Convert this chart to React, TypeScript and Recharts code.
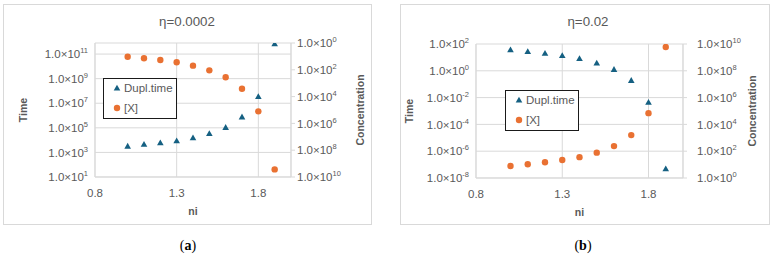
import React from 'react';
import { ScatterChart, Scatter, XAxis, YAxis, CartesianGrid, Legend } from 'recharts';

// ---------- data ----------
const niValues = [1.0, 1.1, 1.2, 1.3, 1.4, 1.5, 1.6, 1.7, 1.8, 1.9];
const dupTimeA = [3.3e3, 4.6e3, 6.2e3, 8.9e3, 1.6e4, 3.5e4, 1.1e5, 7.9e5, 3.6e7, 6.9e11];
const concA = [10.5, 13.8, 18.6, 27.5, 49, 110, 363, 2570, 1.26e5, 2.7e9];
const dupTimeB = [38, 28, 21, 14, 8.3, 3.9, 1.29, 0.195, 4.5e-3, 5.0e-8];
const concB = [7.8, 10.5, 14.8, 21.9, 36, 78, 240, 1585, 6.9e4, 6.0e9];

const xTicks = [0.8, 1.3, 1.8];
const timeTicksA = [1e1, 1e3, 1e5, 1e7, 1e9, 1e11];
const concTicksA = [1e0, 1e2, 1e4, 1e6, 1e8, 1e10];
const timeTicksB = [1e-8, 1e-6, 1e-4, 1e-2, 1e0, 1e2];
const concTicksB = [1e0, 1e2, 1e4, 1e6, 1e8, 1e10];

const seriesNames = ['Dupl.time', '[X]'];
const titles = ['η=0.0002', 'η=0.02'];
const captions = ['a', 'b'];

// ---------- styles ----------
const FONT = '"Liberation Sans", Arial, sans-serif';
const TEXT = '#595959';
const GRID = '#d9d9d9';
const TEAL = '#156082';
const ORANGE = '#E97132';

const buildRows = (time: number[], conc: number[]) =>
  niValues.map((ni, i) => ({ ni, time: time[i], conc: conc[i] }));

const Triangle = (props: any) => {
  const { cx, cy } = props;
  if (cx == null || cy == null) return null;
  return (
    <polygon
      points={`${cx},${cy - 3.2} ${cx - 3.3},${cy + 2.6} ${cx + 3.3},${cy + 2.6}`}
      fill={TEAL}
    />
  );
};

const Dot = (props: any) => {
  const { cx, cy } = props;
  if (cx == null || cy == null) return null;
  return <circle cx={cx} cy={cy} r={3.2} fill={ORANGE} />;
};

const LogTick = (props: any) => {
  const { x, y, payload, anchor, shift } = props;
  const e = Math.round(Math.log10(payload.value));
  return (
    <text
      x={x + (shift || 0)}
      y={y}
      dy="0.36em"
      textAnchor={anchor}
      fill={TEXT}
      fontSize={11.5}
      fontFamily={FONT}
    >
      1.0×10
      <tspan dy={-5} fontSize={7.5}>
        {e}
      </tspan>
    </text>
  );
};

const XTick = (props: any) => {
  const { x, y, payload } = props;
  return (
    <text x={x} y={y + 12} textAnchor="middle" fill={TEXT} fontSize={11.5} fontFamily={FONT}>
      {payload.value.toFixed(1)}
    </text>
  );
};

const LegendBox = () => (
  <div
    style={{
      border: '1px solid #1a1a1a',
      background: '#fff',
      width: 72,
      height: 39,
      boxSizing: 'content-box',
      fontFamily: FONT,
      fontSize: 11.5,
      color: TEXT,
      position: 'relative',
    }}
  >
    <div style={{ position: 'absolute', left: 9, top: 3, display: 'flex', alignItems: 'center', whiteSpace: 'nowrap' }}>
      <svg width={8} height={8} style={{ marginRight: 3 }}>
        <polygon points="4,0.8 0.7,6.6 7.3,6.6" fill={TEAL} />
      </svg>
      {seriesNames[0]}
    </div>
    <div style={{ position: 'absolute', left: 9, top: 23, display: 'flex', alignItems: 'center', whiteSpace: 'nowrap' }}>
      <svg width={8} height={8} style={{ marginRight: 3 }}>
        <circle cx={4} cy={4} r={3.2} fill={ORANGE} />
      </svg>
      {seriesNames[1]}
    </div>
  </div>
);

interface PanelCfg {
  left: number;
  rows: { ni: number; time: number; conc: number }[];
  timeDomain: [number, number];
  timeTicks: number[];
  concDomain: [number, number];
  concTicks: number[];
  concReversed: boolean;
  margin: { top: number; right: number; bottom: number; left: number };
  leftWidth: number;
  rightTickMargin: number;
  timeLabelX: number;
  concLabelX: number;
  niLabelDy: number;
  legendPos: { left: number; top: number };
  title: string;
  caption: string;
  border: { left: number; top: number; width: number; height: number };
  titleX: number;
  captionX: number;
}

const CH_W = 386;
const CH_H = 232;

const Panel = ({ cfg }: { cfg: PanelCfg }) => {
  return (
    <>
      <div
        style={{
          position: 'absolute',
          left: cfg.border.left,
          top: cfg.border.top,
          width: cfg.border.width,
          height: cfg.border.height,
          border: `1px solid ${GRID}`,
          boxSizing: 'border-box',
        }}
      />
      <div
        style={{
          position: 'absolute',
          left: cfg.titleX - 60,
          width: 120,
          top: 14,
          textAlign: 'center',
          fontFamily: FONT,
          fontSize: 13.3,
          color: TEXT,
        }}
      >
        {cfg.title}
      </div>
      <div style={{ position: 'absolute', left: cfg.left, top: 0, width: CH_W, height: CH_H }}>
        <ScatterChart width={CH_W} height={CH_H} margin={cfg.margin}>
          <CartesianGrid stroke={GRID} yAxisId="time" strokeWidth={1} />
          <XAxis
            type="number"
            dataKey="ni"
            domain={[0.8, 2.0]}
            ticks={xTicks}
            allowDataOverflow
            height={30}
            tickSize={0}
            tickMargin={8}
            tickLine={false}
            axisLine={{ stroke: GRID }}
            tick={<XTick />}
            label={(p: any) => {
              const vb = p.viewBox || {};
              return (
                <text
                  x={vb.x + vb.width / 2}
                  y={vb.y + cfg.niLabelDy}
                  textAnchor="middle"
                  fill={TEXT}
                  fontSize={10.5}
                  fontWeight="bold"
                  fontFamily={FONT}
                >
                  ni
                </text>
              );
            }}
          />
          <YAxis
            yAxisId="time"
            orientation="left"
            type="number"
            dataKey="time"
            scale="log"
            domain={cfg.timeDomain}
            ticks={cfg.timeTicks}
            allowDataOverflow
            width={cfg.leftWidth}
            tickSize={0}
            tickMargin={7}
            tickLine={false}
            axisLine={{ stroke: GRID }}
            tick={<LogTick anchor="end" />}
            label={(p: any) => {
              const vb = p.viewBox || {};
              const cy = vb.y + vb.height / 2;
              return (
                <text
                  x={cfg.timeLabelX}
                  y={cy}
                  transform={`rotate(-90 ${cfg.timeLabelX} ${cy})`}
                  textAnchor="middle"
                  dominantBaseline="central"
                  fill={TEXT}
                  fontSize={10.5}
                  fontWeight="bold"
                  fontFamily={FONT}
                >
                  Time
                </text>
              );
            }}
          />
          <YAxis
            yAxisId="conc"
            orientation="right"
            type="number"
            dataKey="conc"
            scale="log"
            domain={cfg.concDomain}
            ticks={cfg.concTicks}
            reversed={cfg.concReversed}
            allowDataOverflow
            width={80}
            tickSize={4}
            tickMargin={cfg.rightTickMargin}
            tickLine={{ stroke: GRID }}
            axisLine={{ stroke: GRID }}
            tick={<LogTick anchor="start" />}
            label={(p: any) => {
              const vb = p.viewBox || {};
              const cy = vb.y + vb.height / 2;
              const lx = vb.x + cfg.concLabelX;
              return (
                <text
                  x={lx}
                  y={cy}
                  transform={`rotate(-90 ${lx} ${cy})`}
                  textAnchor="middle"
                  dominantBaseline="central"
                  fill={TEXT}
                  fontSize={10.5}
                  fontWeight="bold"
                  fontFamily={FONT}
                >
                  Concentration
                </text>
              );
            }}
          />
          <Legend
            layout="horizontal"
            verticalAlign="middle"
            align="center"
            content={() => <LegendBox />}
            wrapperStyle={{ position: 'absolute', left: cfg.legendPos.left, top: cfg.legendPos.top, width: 74, height: 41 }}
          />
          <Scatter
            name={seriesNames[0]}
            data={cfg.rows}
            yAxisId="time"
            shape={<Triangle />}
            isAnimationActive={false}
          />
          <Scatter
            name={seriesNames[1]}
            data={cfg.rows}
            yAxisId="conc"
            shape={<Dot />}
            isAnimationActive={false}
          />
        </ScatterChart>
      </div>
      <div
        style={{
          position: 'absolute',
          left: cfg.captionX - 30,
          width: 60,
          top: 238,
          textAlign: 'center',
          fontFamily: '"Liberation Serif", "Times New Roman", serif',
          fontSize: 14,
          color: '#000',
        }}
      >
        (<b>{cfg.caption}</b>)
      </div>
    </>
  );
};

const panelA: PanelCfg = {
  left: 0,
  rows: buildRows(dupTimeA, concA),
  timeDomain: [1e1, Math.pow(10, 11.9)],
  timeTicks: timeTicksA,
  concDomain: [1e0, 1e10],
  concTicks: concTicksA,
  concReversed: true,
  margin: { top: 43, right: 15, bottom: 25, left: 0 },
  leftWidth: 95,
  rightTickMargin: 2,
  timeLabelX: 23,
  concLabelX: 69,
  niLabelDy: 38,
  legendPos: { left: 103, top: 78 },
  title: titles[0],
  caption: captions[0],
  border: { left: 3, top: 4, width: 369, height: 221 },
  titleX: 187,
  captionX: 188,
};

const panelB: PanelCfg = {
  left: 386,
  rows: buildRows(dupTimeB, concB),
  timeDomain: [1e-8, 1e2],
  timeTicks: timeTicksB,
  concDomain: [1e0, 1e10],
  concTicks: concTicksB,
  concReversed: false,
  margin: { top: 44, right: 9, bottom: 24, left: 0 },
  leftWidth: 90,
  rightTickMargin: 10,
  timeLabelX: 23,
  concLabelX: 69,
  niLabelDy: 38,
  legendPos: { left: 119, top: 90 },
  title: titles[1],
  caption: captions[1],
  border: { left: 400, top: 4, width: 370, height: 221 },
  titleX: 588 - 386 + 386,
  captionX: 583,
};

export default function App() {
  return (
    <div style={{ position: 'absolute', left: 0, top: 0, width: 772, height: 258, background: '#fff', overflow: 'hidden' }}>
      <Panel cfg={panelA} />
      <Panel cfg={panelB} />
    </div>
  );
}
